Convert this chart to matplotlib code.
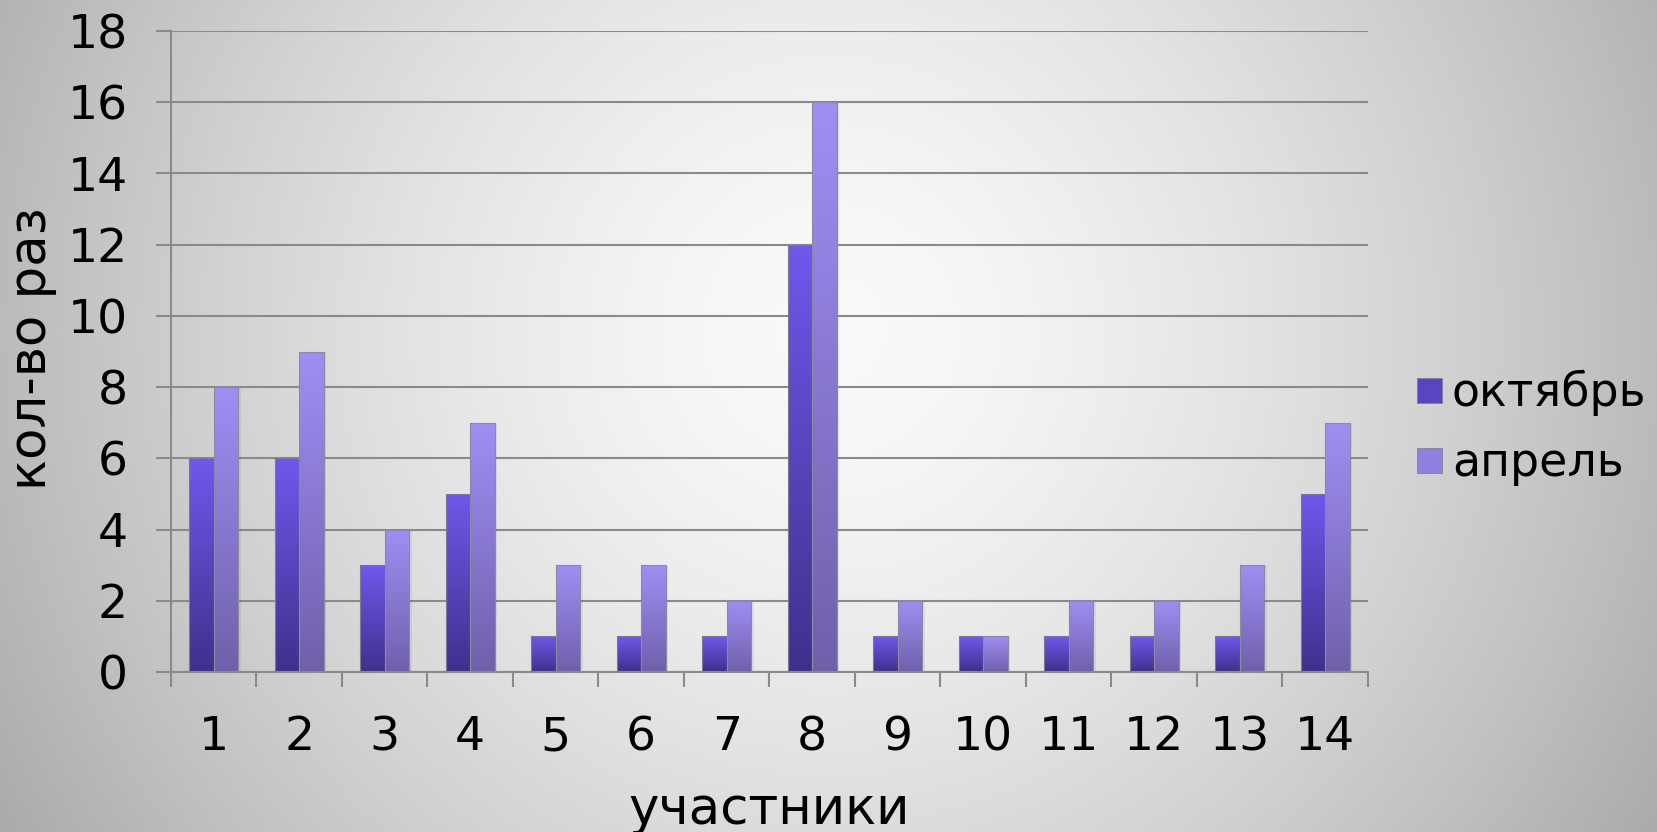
import numpy as np
import matplotlib
matplotlib.use("Agg")
import matplotlib.pyplot as plt
from matplotlib.colors import LinearSegmentedColormap
from matplotlib.lines import Line2D

categories = ["1", "2", "3", "4", "5", "6", "7", "8", "9", "10", "11", "12", "13", "14"]
october = [6, 6, 3, 5, 1, 1, 1, 12, 1, 1, 1, 1, 1, 5]
april = [8, 9, 4, 7, 3, 3, 2, 16, 2, 1, 2, 2, 3, 7]
series_names = ["октябрь", "апрель"]
yticks = [0, 2, 4, 6, 8, 10, 12, 14, 16, 18]

plt.rcParams['font.family'] = ['DejaVu Sans']
W, H = 1658, 832
fig = plt.figure(figsize=(W / 100, H / 100), dpi=100)

# radial background
bg = fig.add_axes([0, 0, 1, 1], zorder=-10)
yy, xx = np.mgrid[0:H, 0:W]
r = np.sqrt((xx - 830) ** 2 + (yy - 330) ** 2) / 969.0
c = 250 - 80 * np.clip(r, 0, 1.2) ** 1.5
img = np.dstack([c, c, c]) / 255.0
bg.imshow(np.clip(img, 0, 1), extent=[0, 1, 0, 1], aspect='auto', origin='upper')
bg.axis('off')

left, right, top, bottom = 171 / W, 1368 / W, 31 / H, 672 / H
ax = fig.add_axes([left, 1 - bottom, right - left, bottom - top])
ax.set_facecolor('none')

n = len(categories)
x = np.arange(n)
w = 0.285
gray = '#8a8a8a'

bars_o = ax.bar(x - w / 2, october, width=w, color='none', edgecolor='#7a7a90', linewidth=0.8, zorder=3)
bars_a = ax.bar(x + w / 2, april, width=w, color='none', edgecolor='#8a8aa0', linewidth=0.8, zorder=3)

cmap_o = LinearSegmentedColormap.from_list('o', ['#40308c', '#7058ec'])
cmap_a = LinearSegmentedColormap.from_list('a', ['#7060aa', '#a08ef4'])
grad = np.linspace(1, 0, 256).reshape(-1, 1)
for bars, cm in ((bars_o, cmap_o), (bars_a, cmap_a)):
    for p in bars:
        x0, y0 = p.get_x(), p.get_y()
        x1, y1 = x0 + p.get_width(), y0 + p.get_height()
        im = ax.imshow(grad, extent=[x0, x1, y0, y1], aspect='auto', cmap=cm,
                       vmin=0, vmax=1, zorder=2.5, origin='upper')
        im.set_clip_path(p)
        ax.fill_between([x1, x1 + 0.03], 0, y1, color='black', alpha=0.06, zorder=2.4, linewidth=0)

ax.set_xlim(-0.5, n - 0.5)
ax.set_ylim(0, 18)
ax.set_yticks(yticks)
ax.set_yticklabels([str(v) for v in yticks])
ax.yaxis.grid(True, color=gray, linewidth=1.5, zorder=1)
ax.set_axisbelow(True)
ax.set_xticks(np.arange(n + 1) - 0.5)
ax.set_xticklabels([])
ax.set_xticks(x, minor=True)
ax.set_xticklabels(categories, minor=True)
ax.tick_params(axis='x', which='minor', length=0, pad=31, labelsize=34)
ax.tick_params(axis='x', which='major', length=11, width=1.5, color=gray, direction='out')
ax.tick_params(axis='y', length=11, width=1.5, color=gray, direction='out', pad=20, labelsize=34)
for s in ['top', 'right']:
    ax.spines[s].set_visible(False)
for s in ['left', 'bottom']:
    ax.spines[s].set_color(gray)
    ax.spines[s].set_linewidth(1.5)

fig.text(769 / W, 1 - 810 / H, "участники", ha='center', va='center', fontsize=37)
fig.text(32 / W, 1 - 349 / H, "кол-во раз", ha='center', va='center', fontsize=37, rotation=90)

handles = [Line2D([], [], marker='s', linestyle='none', markersize=18,
                  markerfacecolor=col, markeredgecolor='#808090', markeredgewidth=0.6)
           for col in ('#5a44c0', '#8f80e0')]
leg = fig.legend(handles, series_names, loc='center left', bbox_to_anchor=(1390 / W, 1 - 428 / H),
                 frameon=False, fontsize=33, handlelength=0.7, handletextpad=0.15,
                 labelspacing=0.55, borderpad=0)

fig.savefig('out.png', dpi=100)
